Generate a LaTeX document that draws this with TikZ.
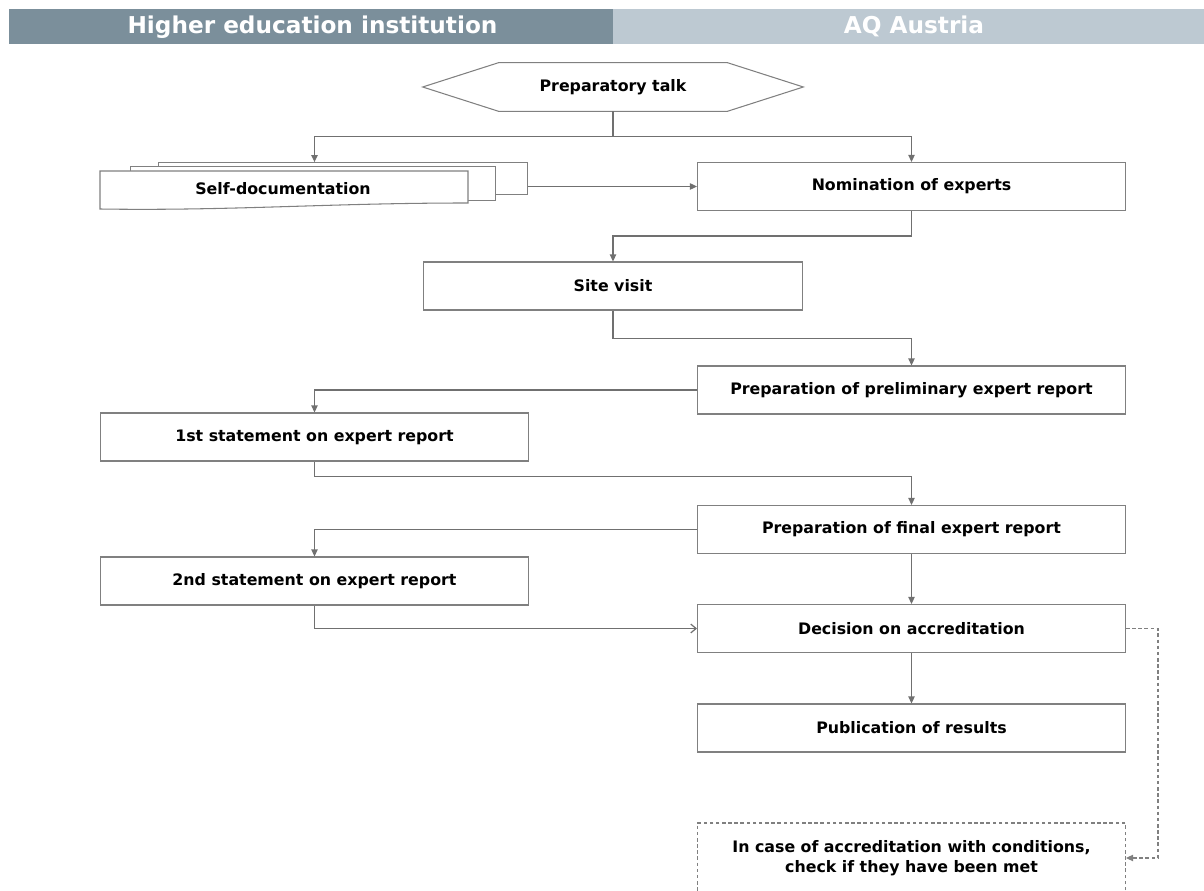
\documentclass[tikz,border=0pt]{standalone}
\usepackage{fontspec}
\setmainfont{DejaVu Sans}
\usetikzlibrary{arrows.meta}
\definecolor{headdark}{RGB}{123,143,155}
\definecolor{headlight}{RGB}{189,201,210}
\definecolor{linegray}{RGB}{112,112,112}
\definecolor{boxgray}{RGB}{128,128,128}
\newcommand{\boxfont}{\bfseries\fontsize{9}{11.2}\selectfont}
\newcommand{\headfont}{\bfseries\fontsize{13.2}{15}\selectfont}
\tikzset{
  box/.style={draw=boxgray,line width=0.6pt,fill=white,minimum height=0.96cm,inner sep=0pt,font=\boxfont},
  leftbox/.style={box,minimum width=8.58cm},
  midbox/.style={box,minimum width=7.6cm},
  rightbox/.style={box,minimum width=8.56cm},
  page/.style={draw=boxgray,line width=0.6pt,fill=white,inner sep=0pt},
  arr/.style={draw=linegray,line width=0.7pt,-{Triangle[length=4pt,width=3.6pt]}},
  openarr/.style={draw=linegray,line width=0.7pt,-{Straight Barb[length=3pt,width=5pt]}},
  dasharr/.style={draw=boxgray,line width=0.6pt,dash pattern=on 2pt off 1.5pt,-{Triangle[length=4pt,width=3.6pt]}},
  headtext/.style={text=white,font=\headfont,anchor=base,inner sep=0pt}
}

\begin{document}
\begin{tikzpicture}[x=0.02cm,y=-0.02cm]
\useasboundingbox (0,0) rectangle (1204,891);
%
% header
%
\fill[headdark] (9,9) rectangle (613,44);
\fill[headlight] (613,9) rectangle (1204,44);
\node[headtext] (hei) at (312.5,34) {Higher education institution};
\node[headtext] (aq) at (914,34) {AQ Austria};
%
% preparatory talk
%
\node[font=\boxfont,minimum width=7.6cm,minimum height=0.96cm,inner sep=0pt] (talk) at (613,87) {};
\draw[boxgray,line width=0.6pt] (talk.west) -- ([xshift=1.52cm]talk.north west) -- ([xshift=-1.52cm]talk.north east)
  -- (talk.east) -- ([xshift=-1.52cm]talk.south east) -- ([xshift=1.52cm]talk.south west) -- cycle;
\node[font=\boxfont] at (talk) {Preparatory talk};
%
% self-documentation
%
\node[page,minimum width=7.4cm,minimum height=0.63cm] (doc3) at (343,178.4) {};
\node[page,minimum width=7.32cm,minimum height=0.67cm] (doc2) at (313,183.4) {};
\draw[page] (100,171) -- (468,171) -- (468,203) .. controls (330,203) and (230,211) .. (100,209) -- cycle;
\node[font=\boxfont] (doc) at (283,189) {Self-documentation};
%
% boxes
%
\node[rightbox] (nom) at (911.5,186.5) {Nomination of experts};
\node[midbox] (site) at (613,286) {Site visit};
\node[rightbox] (prelim) at (911.5,390) {Preparation of preliminary expert report};
\node[leftbox] (first) at (314.5,437) {1st statement on expert report};
\node[rightbox] (final) at (911.5,529.5) {Preparation of final expert report};
\node[leftbox] (second) at (314.5,581) {2nd statement on expert report};
\node[rightbox] (decision) at (911.5,628.5) {Decision on accreditation};
\node[rightbox] (pub) at (911.5,728) {Publication of results};
\node[rightbox,minimum height=1.4cm,align=center,draw=boxgray,dash pattern=on 2pt off 1.5pt] (cond) at (911.5,858)
  {In case of accreditation with conditions,\\check if they have been met};
%
% connectors
%
\draw[arr] (talk.south) -- ++(0,25) -| (first.north |- doc3.north);
\draw[arr] (talk.south) -- ++(0,25) -| (nom.north);
\draw[arr] (nom.west -| doc3.east) -- (nom.west);
\draw[arr] (nom.south) -- ++(0,25) -| (site.north);
\draw[arr] (site.south) -- ++(0,28) -| (prelim.north);
\draw[arr] (prelim.west) -| (first.north);
\draw[arr] (first.south) -- ++(0,15) -| (final.north);
\draw[arr] (final.west) -| (second.north);
\draw[openarr] (second.south) |- (decision.west);
\draw[arr] (final.south) -- (decision.north);
\draw[arr] (decision.south) -- (pub.north);
\draw[dasharr] (decision.east) -- ++(32,0) |- (cond.east);
\end{tikzpicture}
\end{document}
